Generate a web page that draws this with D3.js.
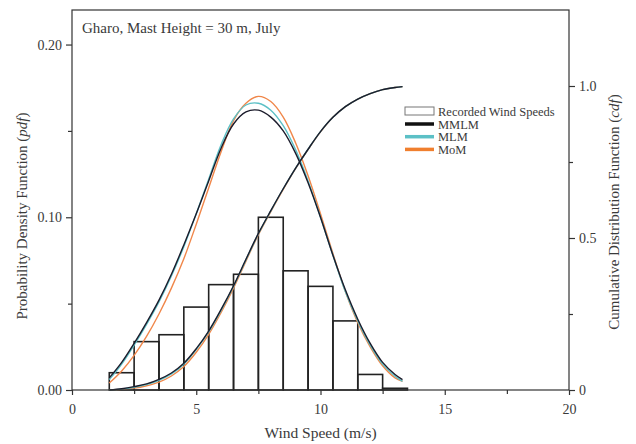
<!DOCTYPE html>
<html>
<head>
<meta charset="utf-8">
<script src="https://cdn.jsdelivr.net/npm/d3@7"></script>
<style>
  body { margin: 0; background: #fff; }
  svg { font-family: "Liberation Serif", "Times New Roman", serif; }
</style>
</head>
<body>
<script>
// Histogram of recorded wind speeds (bin centres, m/s) and observed pdf
const binCenters = [2, 3, 4, 5, 6, 7, 8, 9, 10, 11, 12, 13];
const observedPdf = [0.010, 0.028, 0.032, 0.048, 0.061, 0.067, 0.100, 0.069, 0.060, 0.040, 0.009, 0.001];

const speeds = [1.5, 2, 2.5, 3, 3.5, 4, 4.5, 5, 5.5, 6, 6.5, 7, 7.5, 8, 8.5, 9, 9.5, 10, 10.5, 11, 11.5, 12, 12.5, 13, 13.3];

// Fitted pdf curves
const pdfMMLM = [0.007, 0.016, 0.027, 0.039, 0.052, 0.067, 0.084, 0.102, 0.121, 0.140, 0.154, 0.161, 0.162, 0.158, 0.150, 0.137, 0.120, 0.100, 0.078, 0.058, 0.041, 0.027, 0.016, 0.009, 0.006];
const pdfMLM  = [0.006, 0.015, 0.026, 0.038, 0.051, 0.066, 0.083, 0.102, 0.122, 0.142, 0.157, 0.165, 0.166, 0.162, 0.153, 0.139, 0.121, 0.100, 0.078, 0.057, 0.040, 0.026, 0.015, 0.008, 0.005];
const pdfMoM  = [0.004, 0.011, 0.020, 0.031, 0.044, 0.059, 0.076, 0.096, 0.117, 0.138, 0.156, 0.166, 0.170, 0.167, 0.158, 0.143, 0.124, 0.102, 0.079, 0.057, 0.039, 0.025, 0.014, 0.007, 0.005];

// Fitted cdf curves
const cdfMMLM = [0.000, 0.004, 0.011, 0.020, 0.035, 0.056, 0.088, 0.136, 0.194, 0.265, 0.343, 0.430, 0.515, 0.590, 0.662, 0.730, 0.792, 0.850, 0.897, 0.932, 0.957, 0.975, 0.988, 0.995, 0.998];
const cdfMLM  = [0.000, 0.003, 0.009, 0.018, 0.032, 0.053, 0.085, 0.133, 0.191, 0.262, 0.341, 0.428, 0.514, 0.589, 0.662, 0.730, 0.792, 0.850, 0.897, 0.932, 0.957, 0.975, 0.988, 0.995, 0.998];
const cdfMoM  = [0.000, 0.002, 0.006, 0.014, 0.026, 0.046, 0.077, 0.124, 0.183, 0.255, 0.335, 0.424, 0.511, 0.587, 0.660, 0.729, 0.791, 0.849, 0.897, 0.932, 0.957, 0.975, 0.988, 0.995, 0.998];

const seriesNames = ["MMLM", "MLM", "MoM"];
const seriesColors = ["#1c1c2c", "#5cc0c6", "#f0874a"];
const legendColors = ["#111", "#5cc0c6", "#f07f2e"];

const W = 636, H = 444;
const mLeft = 72, mRight = 569, mTop = 10, mBottom = 390;

const svg = d3.select("body").append("svg")
  .attr("width", W)
  .attr("height", H);

const x = d3.scaleLinear().domain([0, 20]).range([mLeft, mRight]);
const yPdf = d3.scaleLinear().domain([0, 0.22]).range([mBottom, mTop]);
const yCdf = d3.scaleLinear().domain([0, 1.25]).range([mBottom, mTop]);

const textColor = "#3a3a3a";
const axisColor = "#333";

// Histogram bars
svg.append("g").selectAll("rect")
  .data(binCenters)
  .enter()
  .append("rect")
  .attr("x", d => x(d - 0.5))
  .attr("y", (d, i) => yPdf(observedPdf[i]))
  .attr("width", d => x(d + 0.5) - x(d - 0.5))
  .attr("height", (d, i) => yPdf(0) - yPdf(observedPdf[i]))
  .attr("fill", "none")
  .attr("stroke", "#222")
  .attr("stroke-width", 1.6);

// Curves
const pdfLine = d3.line().x((d, i) => x(speeds[i])).y(d => yPdf(d)).curve(d3.curveCatmullRom);
const cdfLine = d3.line().x((d, i) => x(speeds[i])).y(d => yCdf(d)).curve(d3.curveCatmullRom);

const pdfs = [pdfMMLM, pdfMLM, pdfMoM];
const cdfs = [cdfMMLM, cdfMLM, cdfMoM];

// draw orange first, black last
[2, 1, 0].forEach(k => {
  svg.append("path")
    .attr("d", pdfLine(pdfs[k]))
    .attr("fill", "none")
    .attr("stroke", seriesColors[k])
    .attr("stroke-width", 1.4);
  svg.append("path")
    .attr("d", cdfLine(cdfs[k]))
    .attr("fill", "none")
    .attr("stroke", seriesColors[k])
    .attr("stroke-width", 1.4);
});

// Frame
svg.append("rect")
  .attr("x", mLeft).attr("y", mTop)
  .attr("width", mRight - mLeft).attr("height", mBottom - mTop)
  .attr("fill", "none")
  .attr("stroke", axisColor)
  .attr("stroke-width", 1.2);

function styleAxis(g) {
  g.select(".domain").remove();
  g.selectAll("line").attr("stroke", axisColor).attr("stroke-width", 1.2);
  g.selectAll("text")
    .attr("fill", textColor)
    .style("font-size", "14px")
    .style("font-family", "'Liberation Serif', serif");
}

// Bottom axis
svg.append("g")
  .attr("transform", `translate(0,${mBottom})`)
  .call(d3.axisBottom(x).tickValues([0, 5, 10, 15, 20]).tickSize(5).tickPadding(9))
  .call(styleAxis);
svg.append("g")
  .attr("transform", `translate(0,${mBottom})`)
  .call(d3.axisBottom(x).tickValues([2.5, 7.5, 12.5, 17.5]).tickSize(4).tickFormat(""))
  .call(styleAxis);

// Left axis (pdf)
svg.append("g")
  .attr("transform", `translate(${mLeft},0)`)
  .call(d3.axisLeft(yPdf).tickValues([0, 0.1, 0.2]).tickSize(6).tickPadding(4).tickFormat(d3.format(".2f")))
  .call(styleAxis);
svg.append("g")
  .attr("transform", `translate(${mLeft},0)`)
  .call(d3.axisLeft(yPdf).tickValues([0.05, 0.15]).tickSize(4).tickFormat(""))
  .call(styleAxis);

// Right axis (cdf)
svg.append("g")
  .attr("transform", `translate(${mRight},0)`)
  .call(d3.axisRight(yCdf).tickValues([0, 0.5, 1.0]).tickSize(6).tickPadding(4)
    .tickFormat(d => d === 0 ? "0" : d3.format(".1f")(d)))
  .call(styleAxis);
svg.append("g")
  .attr("transform", `translate(${mRight},0)`)
  .call(d3.axisRight(yCdf).tickValues([0.25, 0.75]).tickSize(4).tickFormat(""))
  .call(styleAxis);

// Title inside plot
svg.append("text")
  .attr("x", 82).attr("y", 33)
  .attr("fill", textColor)
  .style("font-size", "15px")
  .text("Gharo, Mast Height = 30 m, July");

// Axis titles
svg.append("text")
  .attr("x", (mLeft + mRight) / 2).attr("y", 438)
  .attr("text-anchor", "middle")
  .attr("fill", textColor)
  .style("font-size", "15.5px")
  .text("Wind Speed (m/s)");

const yl = svg.append("text")
  .attr("transform", `translate(27,216) rotate(-90)`)
  .attr("text-anchor", "middle")
  .attr("fill", textColor)
  .style("font-size", "15px");
yl.append("tspan").text("Probability Density Function (");
yl.append("tspan").style("font-style", "italic").text("pdf");
yl.append("tspan").text(")");

const yr = svg.append("text")
  .attr("transform", `translate(619,212) rotate(-90)`)
  .attr("text-anchor", "middle")
  .attr("fill", textColor)
  .style("font-size", "15px");
yr.append("tspan").text("Cumulative Distribution Function (");
yr.append("tspan").style("font-style", "italic").text("cdf");
yr.append("tspan").text(")");

// Legend
const legend = svg.append("g").attr("transform", "translate(405,0)");
legend.append("rect")
  .attr("x", 0).attr("y", 107)
  .attr("width", 29).attr("height", 8)
  .attr("fill", "#fff")
  .attr("stroke", "#777")
  .attr("stroke-width", 1);
legend.append("text")
  .attr("x", 33).attr("y", 116)
  .attr("fill", textColor)
  .style("font-size", "12.5px")
  .text("Recorded Wind Speeds");

seriesNames.forEach((name, k) => {
  const yy = 124 + k * 12.7;
  legend.append("line")
    .attr("x1", 0).attr("x2", 29)
    .attr("y1", yy).attr("y2", yy)
    .attr("stroke", legendColors[k])
    .attr("stroke-width", 3.5);
  legend.append("text")
    .attr("x", 33).attr("y", yy + 4.5)
    .attr("fill", textColor)
    .style("font-size", "12.5px")
    .text(name);
});
</script>
</body>
</html>
